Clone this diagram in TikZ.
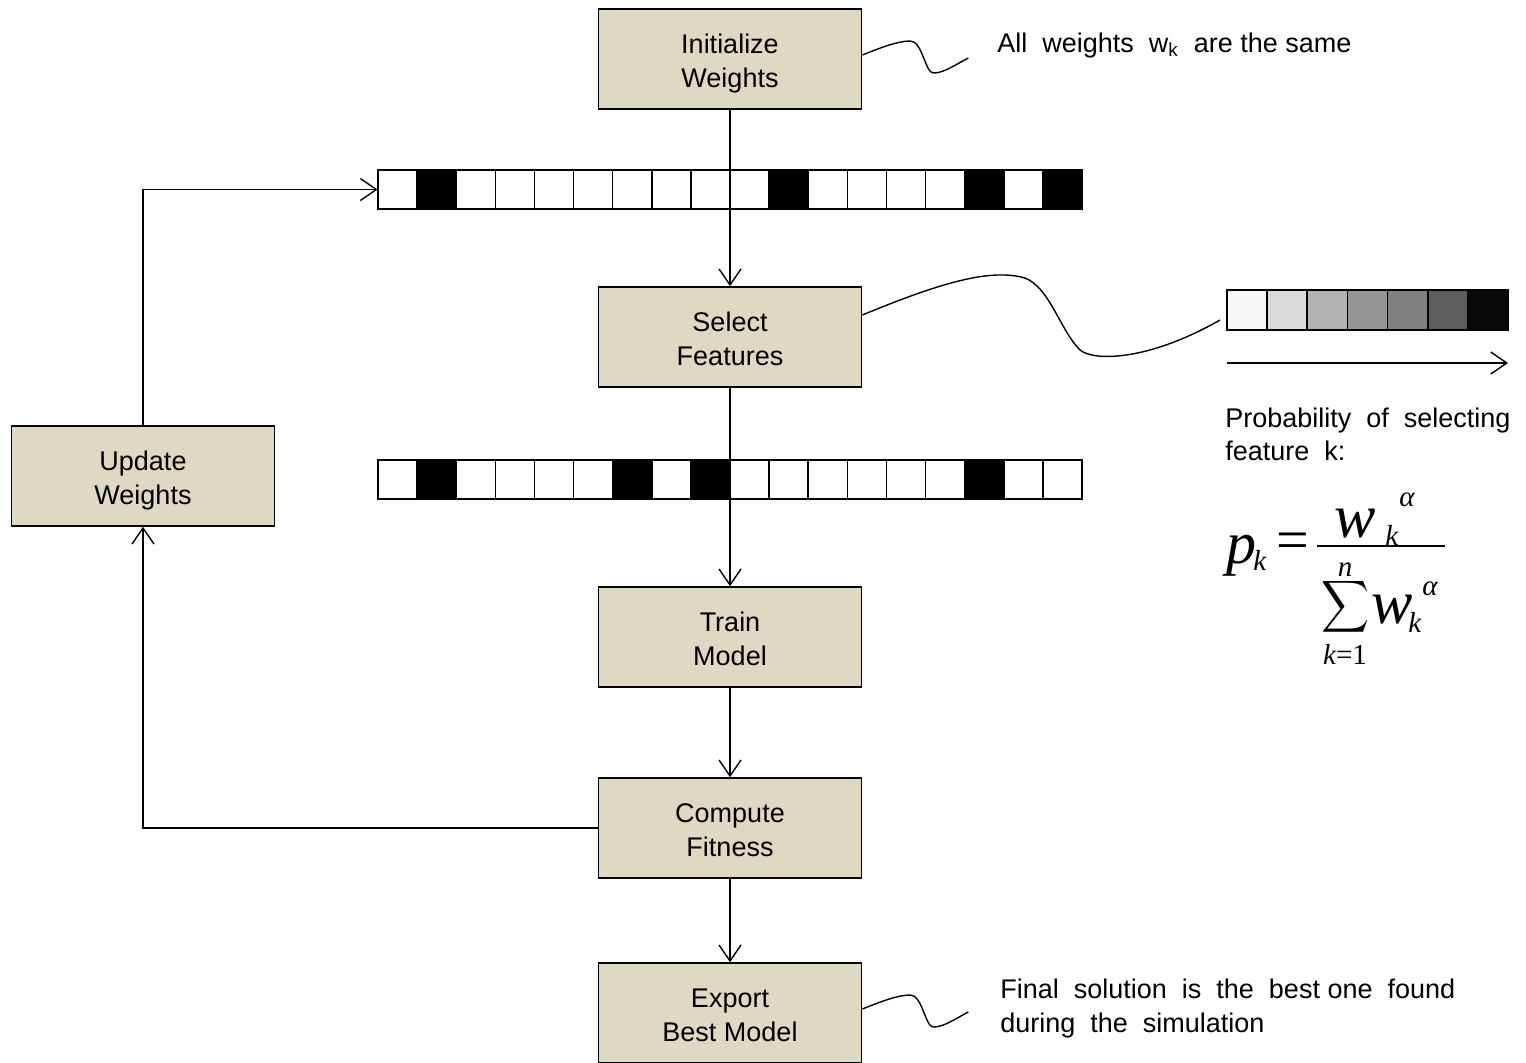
\documentclass[tikz,border=0pt]{standalone}
\usepackage{fontspec}
\setmainfont{Liberation Sans}
\newfontfamily\timesfont{Liberation Serif}
\usetikzlibrary{arrows.meta}
\definecolor{stagefill}{HTML}{DDD9C3}
\newcommand{\wsub}[1]{\textsubscript{#1}}
\newcommand{\fm}[2]{{\fontsize{#1}{#1}\selectfont\timesfont\itshape #2}}

\begin{document}
\begin{tikzpicture}[x=0.5pt,y=-0.5pt]
	\tikzset{stage/.style={draw,line width=0.8pt,fill=stagefill,minimum width=131.5pt,minimum height=50pt,align=center,font=\fontsize{13.5}{17}\selectfont,text height=28pt,text depth=0pt}}
	\tikzset{note/.style={anchor=base west,inner sep=0pt,font=\fontsize{13.5}{16.5}\selectfont}}
	\tikzset{flow/.style={line width=0.7pt,-{Straight Barb[length=8pt,width=11pt]}}}
	\tikzset{bit/.style={line width=0.8pt}}
	\tikzset{sym/.style={inner sep=0pt,anchor=base west}}
	\useasboundingbox (0,0) rectangle (1526,1062);

	% stages
	\node[stage] (init) at (730,59) {Initialize\\Weights};
	\node[stage] (select) at (730,337) {Select\\Features};
	\node[stage] (train) at (730,637) {Train\\Model};
	\node[stage] (compute) at (730,828) {Compute\\Fitness};
	\node[stage] (export) at (730,1013) {Export\\Best Model};
	\node[stage] (update) at (143,476) {Update\\Weights};

	% feature masks
	\node[inner sep=0pt,minimum width=352pt,minimum height=19.5pt] (maskA) at (730,189.5) {};
	\node[inner sep=0pt,minimum width=352pt,minimum height=19.5pt] (maskB) at (730,479.5) {};

	\draw[flow] (init) -- (select);
	\draw[flow] (select) -- (train);
	\draw[flow] (train) -- (compute);
	\draw[flow] (compute) -- (export);
	\draw[flow] (compute.west) -| (update.south);
	\draw[flow] (update.north) |- (maskA.west);

	\foreach \i in {0,...,17}
		\draw[bit,fill=white] ({378+39.11*\i},170) rectangle ++(39.11,39);
	\foreach \i in {1,10,15,17}
		\filldraw[bit,fill=black] ({378+39.11*\i},170) rectangle ++(39.11,39);
	\foreach \i in {0,...,17}
		\draw[bit,fill=white] ({378+39.11*\i},460) rectangle ++(39.11,39);
	\foreach \i in {1,6,8,15}
		\filldraw[bit,fill=black] ({378+39.11*\i},460) rectangle ++(39.11,39);

	% notes
	\foreach \n in {init,export}
		\draw[line width=0.7pt] ([yshift=2pt]\n.east) .. controls +(20,-8) and +(-12,0) .. ++(48,-14)
			.. controls +(12,0) and +(-8,0) .. ++(23,32)
			.. controls +(10,0) and +(-15,8) .. ++(35,-15);
	\node[note] (initnote) at (997,52) {All \ weights \ w\wsub{k} \ are the same};
	\node[note] (exportnote1) at (1000,998) {Final \ solution \ is \ the \ best one \ found};
	\node[note] (exportnote2) at (1000,1032) {during \ the \ simulation};

	% weight scale
	\coordinate (scaletip) at (1220,320);
	\draw[line width=0.7pt] ([yshift=11pt]select.east) .. controls (940,283) and (990,268) .. (1025,278)
		.. controls (1050,288) and (1060,330) .. (1080,350)
		.. controls (1095,362) and (1150,360) .. (scaletip);
	\foreach \i/\g in {0/3,1/14,2/30,3/41,4/50,5/63,6/96}
		\filldraw[bit,fill=black!\g] ({1227+40.14*\i},290) rectangle ++(40.14,40);
	\coordinate (lowL) at (1227,363);
	\coordinate (lowR) at (1508,363);
	\draw[flow] (lowL) -- (lowR);

	\node[note] (probnote1) at (1225,427) {Probability \ of \ selecting};
	\node[note] (probnote2) at (1225,460) {feature \ k:};

	% selection probability
	\node[sym] (p) at (1226,563) {\fm{30}{p}};
	\node[sym] (pk) at (1253,570) {\fm{14.5}{k}};
	\node[sym,anchor=base] (eq) at (1293,559) {\fontsize{29}{29}\selectfont\timesfont =};
	\draw[line width=0.75pt] (1317,546) -- (1445,546);
	\node[sym] (nw) at (1334,537) {\fm{31}{w}};
	\node[sym] (nk) at (1385,545) {\fm{14.5}{k}};
	\node[sym] (na) at (1399,506) {\fm{14.5}{α}};
	\node[sym,anchor=base] (dn) at (1345,576) {\fm{14.5}{n}};
	\node[inner sep=0pt] (sum) at (1345,607) {\resizebox*{24pt}{29pt}{$\displaystyle\sum$}};
	\node[sym] (dw) at (1371,623) {\fm{31}{w}};
	\node[sym] (dk) at (1408,632) {\fm{14.5}{k}};
	\node[sym] (da) at (1422,595) {\fm{14.5}{α}};
	\node[sym,anchor=base] (dlim) at (1345,664) {\fm{14.5}{k}{\fontsize{14.5}{14.5}\selectfont\timesfont =1}};
\end{tikzpicture}
\end{document}
